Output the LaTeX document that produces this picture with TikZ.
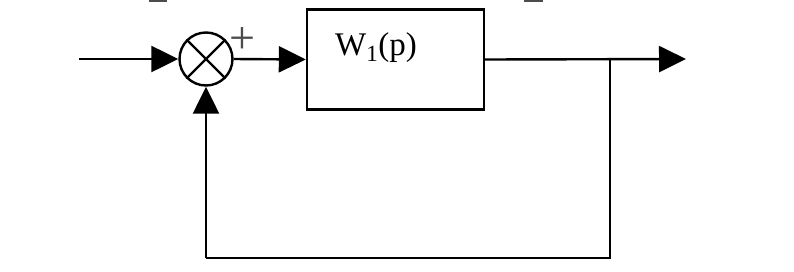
\documentclass[tikz,border=0pt]{standalone}
\usepackage{fontspec}
\setmainfont{Liberation Serif}
\usetikzlibrary{arrows.meta}
\begin{document}
\begin{tikzpicture}[x=1pt,y=-1pt,
  line/.style={line width=2.4pt},
  arr/.style={line, -{Triangle[length=27pt,width=26pt]}},
  blk/.style={draw, line width=2.4pt, minimum width=177pt, minimum height=100pt, inner sep=0pt},
  sum/.style={draw, circle, line width=2.4pt, minimum size=53pt, inner sep=0pt}]
\useasboundingbox (0,0) rectangle (794,271);
\fill[black!70] (149,0) rectangle (167,2);
\fill[black!70] (524,0) rectangle (543,2);
\coordinate (in) at (79,59);
\node[sum] (s) at (206,59) {};
\draw[line] (s.north west) -- (s.south east) (s.north east) -- (s.south west);
\node[inner sep=0pt, text=black!70, font=\fontsize{46}{46}\selectfont] (plus) at (242,40.5) {+};
\node[blk] (b) at (395.5,59.5) {};
\node[font=\fontsize{33}{33}\selectfont, inner sep=0pt, anchor=base] (t) at (376,55) {W\textsubscript{1}(p)};
\coordinate (br) at (610,59);
\coordinate (out) at (686,59);
\coordinate (c1) at (610,258);
\coordinate (c2) at (206,258);
\draw[arr] (in) -- (s.west);
\draw[arr] (s.east) -- (b.west);
\draw[arr] (b.east) -- (out);
\draw[line] (br) -- (c1) -- (c2);
\draw[arr] (c2) -- (s.south);
\end{tikzpicture}
\end{document}
